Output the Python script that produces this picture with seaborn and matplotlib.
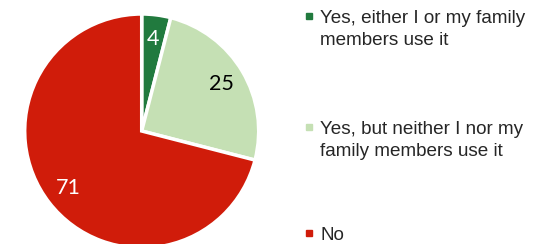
import matplotlib.pyplot as plt
import seaborn as sns
from matplotlib.lines import Line2D

sns.set_theme(style="white")
plt.rcParams['font.family'] = ['Liberation Sans', 'DejaVu Sans']

# data
categories = ["Yes, either I or my family\nmembers use it",
              "Yes, but neither I nor my\nfamily members use it",
              "No"]
values = [4, 25, 71]
colors = ["#217a3e", "#c5e0b4", "#d01c0a"]
label_colors = ["white", "black", "white"]

W, H = 549, 244
fig = plt.figure(figsize=(W / 100, H / 100), dpi=100)
ax = fig.add_axes([24.7 / W, -4 / H, 234 / W, 234 / H])

wedges, texts, autotexts = ax.pie(
    values, colors=colors, startangle=90, counterclock=False,
    autopct='%.0f', pctdistance=0.79,
    wedgeprops=dict(edgecolor='white', linewidth=2.5),
    textprops=dict(fontsize=15.5, family=['Lato', 'DejaVu Sans']))
for t, c in zip(autotexts, label_colors):
    t.set_color(c)
ax.set_xlim(-1, 1)
ax.set_ylim(-1, 1)

# legend, laid out by hand: marker sits beside the first line of each label
legend_tops = [10, 121, 227]
for lab, c, top in zip(categories, colors, legend_tops):
    fig.add_artist(Line2D([309 / W], [1 - (top + 5.5) / H], transform=fig.transFigure,
                          marker='s', markersize=4, linestyle='none',
                          markerfacecolor=c, markeredgecolor=c))
    fig.text(320 / W, 1 - top / H, lab, ha='left', va='top', fontsize=13.6,
             color='#262626', linespacing=1.35)

fig.savefig('out.png', dpi=100)
